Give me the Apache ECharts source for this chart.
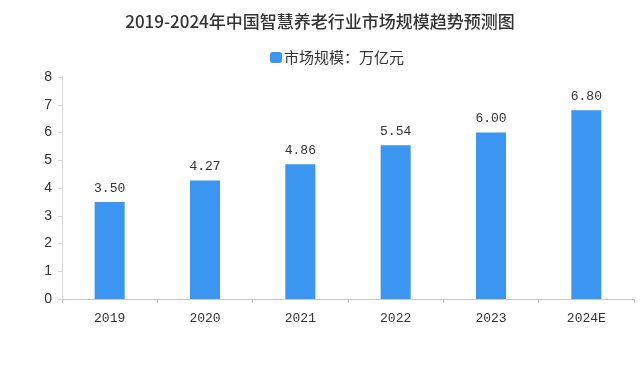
<!DOCTYPE html>
<html><head><meta charset="utf-8">
<script src="https://cdn.jsdelivr.net/npm/echarts@6/dist/echarts.min.js"></script>
<style>html,body{margin:0;padding:0;background:#fff}#c{width:640px;height:365px}</style>
</head><body><div id="c"></div>
<script>
var categories = ['2019','2020','2021','2022','2023','2024E'];
var marketSize = [3.50, 4.27, 4.86, 5.54, 6.00, 6.80];
var yTicks = [0,1,2,3,4,5,6,7,8];
var titleText = '2019-2024年中国智慧养老行业市场规模趋势预测图';
var seriesName = '市场规模：万亿元';

var chart = echarts.init(document.getElementById('c'));
chart.setOption({
  backgroundColor: '#ffffff',
  animation: false,
  title: {
    text: titleText, left: 'center', top: 8,
    textStyle: { fontFamily: 'Noto Sans CJK SC', fontSize: 17, fontWeight: 500, color: '#333' }
  },
  legend: {
    data: [seriesName], top: 45, left: 265,
    itemWidth: 12, itemHeight: 11, itemGap: 2,
    textStyle: { fontFamily: 'Noto Sans CJK SC', fontSize: 15, color: '#333', padding: [0,0,0,-3] }
  },
  grid: { left: 62, right: 6, top: 77, bottom: 66, containLabel: false },
  xAxis: {
    type: 'category', data: categories,
    axisLine: { lineStyle: { color: '#c8c8c8' } },
    axisTick: { show: true, length: 4, lineStyle: { color: '#c8c8c8' } },
    axisLabel: { fontFamily: 'Liberation Mono', fontSize: 13, color: '#333', margin: 13 }
  },
  yAxis: {
    type: 'value', min: yTicks[0], max: yTicks[yTicks.length-1], interval: 1,
    axisLine: { show: true, lineStyle: { color: '#d8d8d8' } },
    axisTick: { show: true, length: 4, lineStyle: { color: '#d8d8d8' } },
    splitLine: { show: false },
    axisLabel: { fontFamily: 'Liberation Sans', fontSize: 14, color: '#333', margin: 10 }
  },
  series: [{
    name: seriesName, type: 'bar', data: marketSize, barWidth: 30,
    itemStyle: { color: '#3a96f0' },
    label: {
      show: true, position: 'top', distance: 7,
      fontFamily: 'Liberation Mono', fontSize: 13, color: '#333',
      formatter: function(p){ return p.value.toFixed(2); }
    }
  }]
});
</script></body></html>
